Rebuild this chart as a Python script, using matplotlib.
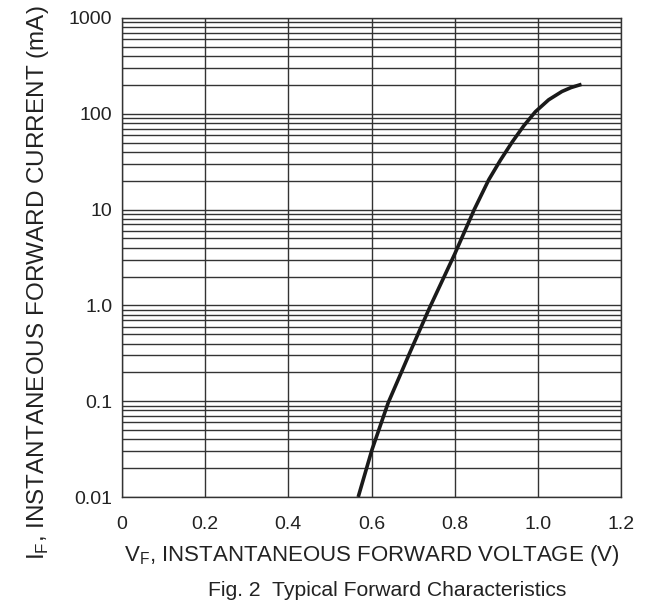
import numpy as np
import matplotlib
matplotlib.use("Agg")
import matplotlib.pyplot as plt

plt.rcParams['font.family'] = ['Liberation Sans', 'DejaVu Sans']
plt.rcParams['mathtext.fontset'] = 'custom'
plt.rcParams['mathtext.rm'] = 'Liberation Sans'

# values
vf_volts = [0.568, 0.601, 0.640, 0.673, 0.692, 0.738, 0.800, 0.847,
            0.882, 0.910, 0.938, 0.966, 0.994, 1.026, 1.058, 1.080, 1.105]
if_ma = [0.01, 0.031, 0.096, 0.206, 0.32, 0.91, 3.43, 10.0,
         20.5, 32.8, 50.5, 74.8, 105.0, 140.0, 171.0, 188.0, 203.0]

x_ticks = [0, 0.2, 0.4, 0.6, 0.8, 1.0, 1.2]
x_labels = ["0", "0.2", "0.4", "0.6", "0.8", "1.0", "1.2"]
y_ticks = [0.01, 0.1, 1.0, 10, 100, 1000]
y_labels = ["0.01", "0.1", "1.0", "10", "100", "1000"]

grid_col = '#333333'
text_col = '#222222'

fig = plt.figure(figsize=(6.62, 6.09), dpi=100)
ax = fig.add_axes([122/662, 1 - 497/609, (621 - 122)/662, (497 - 18)/609])

ax.set_yscale('log')
ax.set_xlim(0, 1.2)
ax.set_ylim(0.01, 1000)

# grid: every 0.2 V, and 1..9 of each decade
for xv in x_ticks:
    ax.axvline(xv, color=grid_col, lw=1.0, zorder=1)
for dec in range(-2, 3):
    for m in range(1, 10):
        ax.axhline(m * 10.0**dec, color=grid_col, lw=1.0, zorder=1)
ax.axhline(1000, color=grid_col, lw=1.0, zorder=1)

ax.plot(vf_volts, if_ma, color='#1a1a1a', lw=2.6, solid_capstyle='butt',
        solid_joinstyle='round', zorder=3)

ax.set_xticks(x_ticks)
ax.set_xticklabels(x_labels)
ax.set_yticks(y_ticks)
ax.set_yticklabels(y_labels)
ax.minorticks_off()
ax.tick_params(length=0, labelsize=14, colors=text_col)
ax.tick_params(axis='x', pad=14)
ax.tick_params(axis='y', pad=7)

for s in ax.spines.values():
    s.set_color(grid_col)
    s.set_linewidth(1.0)

ax.set_xlabel(r'V$_\mathregular{F}$, INSTANTANEOUS FORWARD VOLTAGE (V)',
              fontsize=16, color=text_col, va='center')
ax.xaxis.set_label_coords(0.5, (497 - 556) / 479, transform=ax.transAxes)
ax.set_ylabel(r'I$_\mathregular{F}$, INSTANTANEOUS FORWARD CURRENT (mA)',
              fontsize=17.5, color=text_col, va='center')
ax.yaxis.set_label_coords((38 - 122) / 499, (497 - 283) / 479, transform=ax.transAxes)

fig.text(387/662, 1 - 590/609, 'Fig. 2  Typical Forward Characteristics',
         ha='center', va='center', fontsize=15.2, color=text_col)

fig.savefig('out.png', dpi=100)
